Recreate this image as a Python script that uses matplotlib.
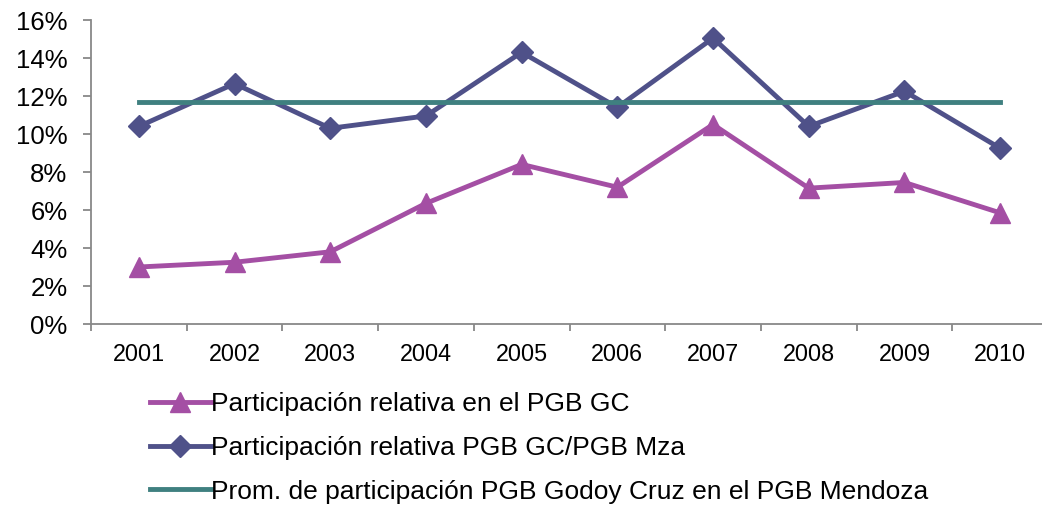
import numpy as np
import matplotlib.pyplot as plt
from matplotlib.ticker import PercentFormatter

plt.rcParams['font.family'] = ['Liberation Sans', 'DejaVu Sans']

years = ['2001', '2002', '2003', '2004', '2005', '2006', '2007', '2008', '2009', '2010']
part_gc = [3.0, 3.25, 3.8, 6.35, 8.4, 7.2, 10.5, 7.15, 7.45, 5.85]
part_gc_mza = [10.4, 12.65, 10.3, 10.95, 14.3, 11.4, 15.05, 10.4, 12.25, 9.25]
prom_gc_mza = [11.7] * 10

x = np.arange(1, len(years) + 1)

fig = plt.figure(figsize=(10.42, 5.09), dpi=100)
ax = fig.add_axes([91 / 1042, 1 - 324 / 509, 957 / 1042, 304 / 509])

ax.plot(x, part_gc, color='#A44FA4', lw=3.5, marker='^', ms=14,
        label='Participación relativa en el PGB GC')
ax.plot(x, part_gc_mza, color='#4F5189', lw=3.5, marker='D', ms=11,
        label='Participación relativa PGB GC/PGB Mza')
ax.plot(x, prom_gc_mza, color='#3F8080', lw=3.5,
        label='Prom. de participación PGB Godoy Cruz en el PGB Mendoza')

ax.set_xlim(0.5, 10.5)
ax.set_ylim(0, 16)
ax.set_yticks(np.arange(0, 17, 2))
ax.yaxis.set_major_formatter(PercentFormatter(decimals=0))
ax.set_xticks(x)
ax.set_xticklabels(years)
ax.set_xticks(np.arange(0.5, 11, 1), minor=True)
ax.tick_params(axis='x', which='major', length=0, pad=14, labelsize=16.8)
ax.tick_params(axis='x', which='minor', length=5, color='#888888', width=1.3)
ax.tick_params(axis='y', length=6, color='#888888', width=1.3, labelsize=18.5, pad=11)

for s in ['top', 'right']:
    ax.spines[s].set_visible(False)
for s in ['left', 'bottom']:
    ax.spines[s].set_color('#888888')
    ax.spines[s].set_linewidth(1.3)

ax.legend(loc='upper left', bbox_to_anchor=(150 / 1042, 1 - 392 / 509),
          bbox_transform=fig.transFigure, frameon=False, fontsize=19,
          handlelength=2.3, handletextpad=0.0, labelspacing=0.75,
          borderpad=0, borderaxespad=0)

fig.savefig('out.png', dpi=100)
